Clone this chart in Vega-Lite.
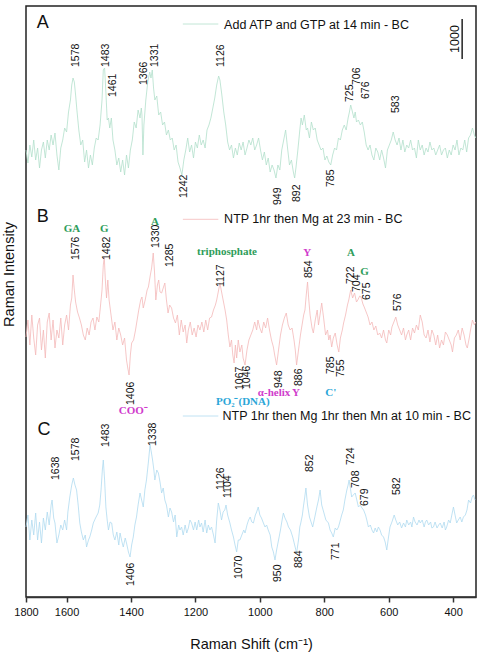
{
"$schema": "https://vega.github.io/schema/vega-lite/v6.json",
"width": 450,
"height": 591,
"autosize": {"type": "none"},
"padding": {"left": 26, "top": 6, "right": 7, "bottom": 59},
"background": "white",
"config": {"view": {"stroke": "#222", "strokeWidth": 1.5}, "font": "Liberation Sans"},
"datasets": {
"A": [
{"shift":1726,"intensity":11175},{"shift":1720,"intensity":10850},{"shift":1714,"intensity":11300},{"shift":1708,"intensity":11000},{"shift":1702,"intensity":11425},{"shift":1696,"intensity":10925},{"shift":1690,"intensity":11225},{"shift":1684,"intensity":10725},{"shift":1678,"intensity":11175},{"shift":1672,"intensity":11375},{"shift":1666,"intensity":10975},{"shift":1660,"intensity":11425},{"shift":1654,"intensity":11175},{"shift":1648,"intensity":11550},{"shift":1642,"intensity":11300},{"shift":1636,"intensity":11600},{"shift":1630,"intensity":11050},{"shift":1624,"intensity":10675},{"shift":1618,"intensity":11225},{"shift":1612,"intensity":11425},{"shift":1606,"intensity":11725},{"shift":1600,"intensity":11625},{"shift":1594,"intensity":12125},{"shift":1588,"intensity":12425},{"shift":1584,"intensity":12800},{"shift":1580,"intensity":12975},{"shift":1576,"intensity":12875},{"shift":1572,"intensity":12550},{"shift":1568,"intensity":12175},{"shift":1562,"intensity":11675},{"shift":1556,"intensity":11300},{"shift":1550,"intensity":11425},{"shift":1544,"intensity":10875},{"shift":1538,"intensity":11175},{"shift":1532,"intensity":10725},{"shift":1526,"intensity":11050},{"shift":1520,"intensity":10800},{"shift":1514,"intensity":11225},{"shift":1508,"intensity":11475},{"shift":1502,"intensity":11425},{"shift":1496,"intensity":11800},{"shift":1490,"intensity":12425},{"shift":1486,"intensity":13175},{"shift":1482,"intensity":13225},{"shift":1478,"intensity":12625},{"shift":1474,"intensity":11925},{"shift":1470,"intensity":11975},{"shift":1466,"intensity":11725},{"shift":1461,"intensity":11975},{"shift":1456,"intensity":11425},{"shift":1450,"intensity":11175},{"shift":1444,"intensity":10800},{"shift":1438,"intensity":10975},{"shift":1432,"intensity":10625},{"shift":1426,"intensity":10925},{"shift":1420,"intensity":10550},{"shift":1414,"intensity":11050},{"shift":1408,"intensity":10725},{"shift":1402,"intensity":11175},{"shift":1396,"intensity":11425},{"shift":1390,"intensity":11875},{"shift":1384,"intensity":11725},{"shift":1378,"intensity":12175},{"shift":1372,"intensity":11975},{"shift":1368,"intensity":12225},{"shift":1366,"intensity":12050},{"shift":1363,"intensity":11050},{"shift":1360,"intensity":11800},{"shift":1354,"intensity":12425},{"shift":1348,"intensity":12875},{"shift":1342,"intensity":13125},{"shift":1338,"intensity":12975},{"shift":1334,"intensity":13175},{"shift":1330,"intensity":12725},{"shift":1326,"intensity":12425},{"shift":1320,"intensity":12525},{"shift":1314,"intensity":12050},{"shift":1308,"intensity":12125},{"shift":1302,"intensity":11800},{"shift":1296,"intensity":11875},{"shift":1290,"intensity":11550},{"shift":1284,"intensity":11675},{"shift":1278,"intensity":11425},{"shift":1272,"intensity":11475},{"shift":1266,"intensity":11175},{"shift":1260,"intensity":11300},{"shift":1254,"intensity":10875},{"shift":1248,"intensity":10725},{"shift":1242,"intensity":10550},{"shift":1236,"intensity":10925},{"shift":1230,"intensity":11175},{"shift":1224,"intensity":11475},{"shift":1218,"intensity":11125},{"shift":1212,"intensity":11300},{"shift":1206,"intensity":10975},{"shift":1200,"intensity":11375},{"shift":1194,"intensity":11225},{"shift":1188,"intensity":11550},{"shift":1182,"intensity":11300},{"shift":1176,"intensity":11425},{"shift":1170,"intensity":11225},{"shift":1164,"intensity":11675},{"shift":1158,"intensity":11800},{"shift":1152,"intensity":11975},{"shift":1146,"intensity":12225},{"shift":1140,"intensity":12475},{"shift":1134,"intensity":12800},{"shift":1128,"intensity":13025},{"shift":1124,"intensity":12925},{"shift":1118,"intensity":12550},{"shift":1112,"intensity":12125},{"shift":1106,"intensity":11800},{"shift":1100,"intensity":11375},{"shift":1094,"intensity":11175},{"shift":1088,"intensity":11300},{"shift":1082,"intensity":10975},{"shift":1076,"intensity":11225},{"shift":1070,"intensity":11050},{"shift":1064,"intensity":11350},{"shift":1058,"intensity":11175},{"shift":1052,"intensity":11375},{"shift":1046,"intensity":11050},{"shift":1040,"intensity":11225},{"shift":1034,"intensity":11425},{"shift":1028,"intensity":11300},{"shift":1022,"intensity":11475},{"shift":1016,"intensity":11175},{"shift":1010,"intensity":11300},{"shift":1004,"intensity":11475},{"shift":998,"intensity":11175},{"shift":992,"intensity":10925},{"shift":986,"intensity":11125},{"shift":980,"intensity":10800},{"shift":974,"intensity":10975},{"shift":968,"intensity":10625},{"shift":962,"intensity":10800},{"shift":956,"intensity":10675},{"shift":950,"intensity":10475},{"shift":944,"intensity":10800},{"shift":938,"intensity":10675},{"shift":932,"intensity":11175},{"shift":926,"intensity":11425},{"shift":920,"intensity":11675},{"shift":914,"intensity":11225},{"shift":908,"intensity":10800},{"shift":902,"intensity":10925},{"shift":896,"intensity":10625},{"shift":892,"intensity":10475},{"shift":888,"intensity":10725},{"shift":882,"intensity":11175},{"shift":876,"intensity":11675},{"shift":872,"intensity":11975},{"shift":868,"intensity":11800},{"shift":862,"intensity":12050},{"shift":856,"intensity":11675},{"shift":852,"intensity":11725},{"shift":846,"intensity":11475},{"shift":840,"intensity":11875},{"shift":834,"intensity":11675},{"shift":828,"intensity":11725},{"shift":822,"intensity":11425},{"shift":816,"intensity":11300},{"shift":810,"intensity":11175},{"shift":804,"intensity":11225},{"shift":798,"intensity":10925},{"shift":792,"intensity":11025},{"shift":786,"intensity":10875},{"shift":780,"intensity":10800},{"shift":774,"intensity":11050},{"shift":768,"intensity":11225},{"shift":762,"intensity":11175},{"shift":756,"intensity":11475},{"shift":750,"intensity":11425},{"shift":744,"intensity":11675},{"shift":738,"intensity":11800},{"shift":732,"intensity":11675},{"shift":726,"intensity":11975},{"shift":722,"intensity":12125},{"shift":718,"intensity":12300},{"shift":714,"intensity":12175},{"shift":708,"intensity":11975},{"shift":704,"intensity":12125},{"shift":700,"intensity":11875},{"shift":694,"intensity":11925},{"shift":688,"intensity":11800},{"shift":682,"intensity":11875},{"shift":676,"intensity":11625},{"shift":670,"intensity":11300},{"shift":664,"intensity":11175},{"shift":658,"intensity":11300},{"shift":652,"intensity":11050},{"shift":646,"intensity":10925},{"shift":640,"intensity":11225},{"shift":634,"intensity":11125},{"shift":628,"intensity":10925},{"shift":622,"intensity":11175},{"shift":616,"intensity":10975},{"shift":610,"intensity":10725},{"shift":604,"intensity":11175},{"shift":598,"intensity":11300},{"shift":592,"intensity":11425},{"shift":586,"intensity":11625},{"shift":580,"intensity":11425},{"shift":574,"intensity":11300},{"shift":568,"intensity":11475},{"shift":562,"intensity":11175},{"shift":556,"intensity":11425},{"shift":550,"intensity":11125},{"shift":544,"intensity":11300},{"shift":538,"intensity":11225},{"shift":532,"intensity":11425},{"shift":526,"intensity":11175},{"shift":520,"intensity":11225},{"shift":514,"intensity":10975},{"shift":508,"intensity":11425},{"shift":502,"intensity":11175},{"shift":496,"intensity":11300},{"shift":490,"intensity":11050},{"shift":484,"intensity":11225},{"shift":478,"intensity":11125},{"shift":472,"intensity":11375},{"shift":466,"intensity":11175},{"shift":460,"intensity":11225},{"shift":454,"intensity":11050},{"shift":448,"intensity":11175},{"shift":442,"intensity":11300},{"shift":436,"intensity":11050},{"shift":430,"intensity":11175},{"shift":424,"intensity":11225},{"shift":418,"intensity":10975},{"shift":412,"intensity":11175},{"shift":406,"intensity":11050},{"shift":400,"intensity":11300},{"shift":394,"intensity":11175},{"shift":388,"intensity":11425},{"shift":382,"intensity":11050},{"shift":376,"intensity":11225},{"shift":370,"intensity":11175},{"shift":364,"intensity":11425},{"shift":358,"intensity":11125},{"shift":352,"intensity":11475},{"shift":346,"intensity":11550},{"shift":340,"intensity":11725},{"shift":334,"intensity":11550},{"shift":330,"intensity":11475}
],
"B": [
{"shift":1726,"intensity":6500},{"shift":1720,"intensity":6925},{"shift":1714,"intensity":6300},{"shift":1708,"intensity":7050},{"shift":1702,"intensity":6475},{"shift":1696,"intensity":6050},{"shift":1690,"intensity":6800},{"shift":1684,"intensity":6975},{"shift":1678,"intensity":6175},{"shift":1672,"intensity":6675},{"shift":1666,"intensity":5975},{"shift":1660,"intensity":6875},{"shift":1654,"intensity":7100},{"shift":1648,"intensity":6425},{"shift":1642,"intensity":6925},{"shift":1636,"intensity":6225},{"shift":1630,"intensity":6675},{"shift":1624,"intensity":6475},{"shift":1618,"intensity":6975},{"shift":1612,"intensity":6300},{"shift":1606,"intensity":6800},{"shift":1600,"intensity":7050},{"shift":1594,"intensity":6675},{"shift":1588,"intensity":7300},{"shift":1584,"intensity":7475},{"shift":1580,"intensity":8050},{"shift":1576,"intensity":7675},{"shift":1572,"intensity":7375},{"shift":1566,"intensity":7125},{"shift":1560,"intensity":6975},{"shift":1554,"intensity":6800},{"shift":1548,"intensity":6550},{"shift":1542,"intensity":6425},{"shift":1536,"intensity":6725},{"shift":1530,"intensity":6550},{"shift":1524,"intensity":6875},{"shift":1518,"intensity":6975},{"shift":1512,"intensity":6675},{"shift":1506,"intensity":7000},{"shift":1500,"intensity":6875},{"shift":1496,"intensity":7175},{"shift":1490,"intensity":7675},{"shift":1486,"intensity":8300},{"shift":1483,"intensity":8500},{"shift":1480,"intensity":7975},{"shift":1476,"intensity":7475},{"shift":1472,"intensity":7925},{"shift":1468,"intensity":7425},{"shift":1462,"intensity":7050},{"shift":1456,"intensity":6675},{"shift":1450,"intensity":6875},{"shift":1444,"intensity":6425},{"shift":1438,"intensity":6725},{"shift":1432,"intensity":6550},{"shift":1426,"intensity":6300},{"shift":1420,"intensity":6475},{"shift":1414,"intensity":5925},{"shift":1410,"intensity":5725},{"shift":1406,"intensity":5550},{"shift":1402,"intensity":6050},{"shift":1398,"intensity":6350},{"shift":1392,"intensity":6425},{"shift":1386,"intensity":6675},{"shift":1380,"intensity":6975},{"shift":1376,"intensity":7175},{"shift":1370,"intensity":7425},{"shift":1366,"intensity":7500},{"shift":1362,"intensity":7225},{"shift":1356,"intensity":7425},{"shift":1350,"intensity":7675},{"shift":1346,"intensity":7750},{"shift":1340,"intensity":8050},{"shift":1336,"intensity":8225},{"shift":1331,"intensity":8600},{"shift":1327,"intensity":8125},{"shift":1323,"intensity":7425},{"shift":1318,"intensity":7800},{"shift":1314,"intensity":7925},{"shift":1310,"intensity":7625},{"shift":1305,"intensity":7600},{"shift":1300,"intensity":7725},{"shift":1295,"intensity":7850},{"shift":1290,"intensity":7425},{"shift":1285,"intensity":7100},{"shift":1280,"intensity":7300},{"shift":1274,"intensity":7225},{"shift":1268,"intensity":6975},{"shift":1262,"intensity":6850},{"shift":1256,"intensity":7050},{"shift":1250,"intensity":6550},{"shift":1244,"intensity":6925},{"shift":1238,"intensity":6625},{"shift":1232,"intensity":6800},{"shift":1227,"intensity":6350},{"shift":1222,"intensity":6675},{"shift":1216,"intensity":6875},{"shift":1210,"intensity":6550},{"shift":1204,"intensity":6725},{"shift":1198,"intensity":6500},{"shift":1192,"intensity":6800},{"shift":1186,"intensity":6675},{"shift":1180,"intensity":6875},{"shift":1174,"intensity":6625},{"shift":1168,"intensity":6925},{"shift":1162,"intensity":6675},{"shift":1156,"intensity":6975},{"shift":1150,"intensity":7000},{"shift":1144,"intensity":7175},{"shift":1138,"intensity":7300},{"shift":1134,"intensity":7425},{"shift":1128,"intensity":7675},{"shift":1124,"intensity":7850},{"shift":1120,"intensity":7675},{"shift":1114,"intensity":7425},{"shift":1108,"intensity":7175},{"shift":1103,"intensity":6925},{"shift":1098,"intensity":6550},{"shift":1093,"intensity":6250},{"shift":1088,"intensity":6425},{"shift":1084,"intensity":6050},{"shift":1080,"intensity":5850},{"shift":1076,"intensity":6300},{"shift":1072,"intensity":5975},{"shift":1067,"intensity":6425},{"shift":1062,"intensity":6125},{"shift":1056,"intensity":6300},{"shift":1052,"intensity":5975},{"shift":1046,"intensity":5800},{"shift":1040,"intensity":6175},{"shift":1034,"intensity":6425},{"shift":1028,"intensity":6550},{"shift":1022,"intensity":6675},{"shift":1016,"intensity":6875},{"shift":1010,"intensity":6675},{"shift":1006,"intensity":6925},{"shift":1000,"intensity":6725},{"shift":994,"intensity":6600},{"shift":988,"intensity":6875},{"shift":982,"intensity":6725},{"shift":976,"intensity":6975},{"shift":970,"intensity":6675},{"shift":964,"intensity":6425},{"shift":958,"intensity":6250},{"shift":954,"intensity":6050},{"shift":948,"intensity":5800},{"shift":942,"intensity":6175},{"shift":936,"intensity":6550},{"shift":930,"intensity":6800},{"shift":924,"intensity":6975},{"shift":918,"intensity":7100},{"shift":912,"intensity":6800},{"shift":906,"intensity":6675},{"shift":900,"intensity":6725},{"shift":894,"intensity":6425},{"shift":890,"intensity":6175},{"shift":886,"intensity":5800},{"shift":880,"intensity":6175},{"shift":874,"intensity":6550},{"shift":870,"intensity":6750},{"shift":864,"intensity":7050},{"shift":860,"intensity":7175},{"shift":856,"intensity":7550},{"shift":852,"intensity":7875},{"shift":848,"intensity":7425},{"shift":844,"intensity":7050},{"shift":838,"intensity":6725},{"shift":834,"intensity":6600},{"shift":828,"intensity":6925},{"shift":822,"intensity":7175},{"shift":818,"intensity":6800},{"shift":812,"intensity":7125},{"shift":808,"intensity":7350},{"shift":802,"intensity":6975},{"shift":796,"intensity":6550},{"shift":790,"intensity":6675},{"shift":786,"intensity":6425},{"shift":782,"intensity":6550},{"shift":777,"intensity":6250},{"shift":772,"intensity":6475},{"shift":766,"intensity":6600},{"shift":760,"intensity":6300},{"shift":755,"intensity":6125},{"shift":750,"intensity":6475},{"shift":744,"intensity":6675},{"shift":740,"intensity":6850},{"shift":734,"intensity":7050},{"shift":728,"intensity":7300},{"shift":724,"intensity":7425},{"shift":718,"intensity":7675},{"shift":712,"intensity":7475},{"shift":706,"intensity":7600},{"shift":700,"intensity":7375},{"shift":696,"intensity":7425},{"shift":690,"intensity":7525},{"shift":686,"intensity":7500},{"shift":680,"intensity":7325},{"shift":676,"intensity":7250},{"shift":670,"intensity":7125},{"shift":664,"intensity":7000},{"shift":658,"intensity":6800},{"shift":652,"intensity":6875},{"shift":646,"intensity":6675},{"shift":640,"intensity":6775},{"shift":634,"intensity":6550},{"shift":628,"intensity":6600},{"shift":622,"intensity":6475},{"shift":616,"intensity":6675},{"shift":610,"intensity":6425},{"shift":606,"intensity":6350},{"shift":600,"intensity":6675},{"shift":594,"intensity":6550},{"shift":590,"intensity":6750},{"shift":584,"intensity":6875},{"shift":578,"intensity":7000},{"shift":572,"intensity":6800},{"shift":566,"intensity":6675},{"shift":560,"intensity":6550},{"shift":554,"intensity":6725},{"shift":548,"intensity":6425},{"shift":544,"intensity":6550},{"shift":538,"intensity":6675},{"shift":532,"intensity":6425},{"shift":526,"intensity":6725},{"shift":520,"intensity":6600},{"shift":514,"intensity":6800},{"shift":508,"intensity":6675},{"shift":502,"intensity":7050},{"shift":496,"intensity":6875},{"shift":490,"intensity":6550},{"shift":484,"intensity":6475},{"shift":478,"intensity":6675},{"shift":472,"intensity":6375},{"shift":466,"intensity":6675},{"shift":460,"intensity":6550},{"shift":454,"intensity":6300},{"shift":448,"intensity":6550},{"shift":442,"intensity":6225},{"shift":436,"intensity":6425},{"shift":430,"intensity":6300},{"shift":424,"intensity":6625},{"shift":418,"intensity":6550},{"shift":412,"intensity":6425},{"shift":406,"intensity":6300},{"shift":402,"intensity":6125},{"shift":396,"intensity":6475},{"shift":390,"intensity":6550},{"shift":384,"intensity":6675},{"shift":378,"intensity":6425},{"shift":372,"intensity":6725},{"shift":366,"intensity":6550},{"shift":360,"intensity":6300},{"shift":356,"intensity":6225},{"shift":350,"intensity":6475},{"shift":346,"intensity":6675},{"shift":340,"intensity":6925},{"shift":334,"intensity":6800},{"shift":330,"intensity":6875}
],
"C": [
{"shift":1726,"intensity":1750},{"shift":1720,"intensity":2050},{"shift":1714,"intensity":1425},{"shift":1708,"intensity":1925},{"shift":1702,"intensity":1550},{"shift":1696,"intensity":2100},{"shift":1690,"intensity":1425},{"shift":1684,"intensity":1875},{"shift":1678,"intensity":1350},{"shift":1672,"intensity":1975},{"shift":1666,"intensity":1675},{"shift":1660,"intensity":2125},{"shift":1654,"intensity":1800},{"shift":1648,"intensity":2300},{"shift":1645,"intensity":2425},{"shift":1640,"intensity":1975},{"shift":1636,"intensity":1850},{"shift":1630,"intensity":1350},{"shift":1624,"intensity":1550},{"shift":1618,"intensity":1800},{"shift":1612,"intensity":1675},{"shift":1606,"intensity":1925},{"shift":1600,"intensity":1675},{"shift":1596,"intensity":2125},{"shift":1590,"intensity":2500},{"shift":1584,"intensity":2800},{"shift":1579,"intensity":2975},{"shift":1574,"intensity":2800},{"shift":1569,"intensity":2675},{"shift":1564,"intensity":2300},{"shift":1559,"intensity":1850},{"shift":1554,"intensity":1625},{"shift":1548,"intensity":1425},{"shift":1542,"intensity":1550},{"shift":1538,"intensity":1250},{"shift":1532,"intensity":1425},{"shift":1528,"intensity":1500},{"shift":1522,"intensity":1675},{"shift":1517,"intensity":1850},{"shift":1510,"intensity":1975},{"shift":1502,"intensity":2100},{"shift":1497,"intensity":2300},{"shift":1493,"intensity":2675},{"shift":1489,"intensity":3175},{"shift":1486,"intensity":3425},{"shift":1482,"intensity":2925},{"shift":1478,"intensity":2250},{"shift":1474,"intensity":1925},{"shift":1470,"intensity":1675},{"shift":1465,"intensity":1875},{"shift":1460,"intensity":1850},{"shift":1455,"intensity":1550},{"shift":1450,"intensity":1425},{"shift":1444,"intensity":1625},{"shift":1438,"intensity":1300},{"shift":1434,"intensity":1600},{"shift":1428,"intensity":1375},{"shift":1424,"intensity":1250},{"shift":1418,"intensity":1475},{"shift":1414,"intensity":1350},{"shift":1408,"intensity":1125},{"shift":1403,"intensity":1000},{"shift":1398,"intensity":1300},{"shift":1393,"intensity":1500},{"shift":1388,"intensity":1800},{"shift":1383,"intensity":2000},{"shift":1378,"intensity":2300},{"shift":1372,"intensity":2600},{"shift":1367,"intensity":2425},{"shift":1362,"intensity":2250},{"shift":1357,"intensity":2675},{"shift":1352,"intensity":2925},{"shift":1346,"intensity":3375},{"shift":1341,"intensity":3800},{"shift":1337,"intensity":3625},{"shift":1333,"intensity":3425},{"shift":1329,"intensity":3175},{"shift":1326,"intensity":2925},{"shift":1320,"intensity":3175},{"shift":1315,"intensity":3100},{"shift":1310,"intensity":2875},{"shift":1305,"intensity":2600},{"shift":1300,"intensity":2725},{"shift":1295,"intensity":2425},{"shift":1290,"intensity":2300},{"shift":1284,"intensity":2000},{"shift":1279,"intensity":2225},{"shift":1274,"intensity":2125},{"shift":1268,"intensity":1875},{"shift":1263,"intensity":2050},{"shift":1258,"intensity":1500},{"shift":1252,"intensity":1800},{"shift":1248,"intensity":1675},{"shift":1243,"intensity":1750},{"shift":1238,"intensity":1550},{"shift":1232,"intensity":1800},{"shift":1227,"intensity":1600},{"shift":1222,"intensity":1725},{"shift":1217,"intensity":1925},{"shift":1212,"intensity":1850},{"shift":1206,"intensity":1675},{"shift":1201,"intensity":1875},{"shift":1196,"intensity":1675},{"shift":1190,"intensity":1925},{"shift":1186,"intensity":1750},{"shift":1181,"intensity":1850},{"shift":1176,"intensity":1625},{"shift":1170,"intensity":1925},{"shift":1165,"intensity":1600},{"shift":1160,"intensity":1800},{"shift":1155,"intensity":1675},{"shift":1150,"intensity":1750},{"shift":1144,"intensity":1550},{"shift":1139,"intensity":1350},{"shift":1134,"intensity":1925},{"shift":1129,"intensity":2350},{"shift":1124,"intensity":2175},{"shift":1119,"intensity":1925},{"shift":1114,"intensity":2125},{"shift":1109,"intensity":2175},{"shift":1105,"intensity":2300},{"shift":1100,"intensity":2050},{"shift":1093,"intensity":1850},{"shift":1088,"intensity":1675},{"shift":1082,"intensity":1500},{"shift":1077,"intensity":1300},{"shift":1072,"intensity":1125},{"shift":1067,"intensity":1425},{"shift":1062,"intensity":1425},{"shift":1056,"intensity":1550},{"shift":1050,"intensity":1675},{"shift":1046,"intensity":1600},{"shift":1040,"intensity":1800},{"shift":1035,"intensity":1925},{"shift":1030,"intensity":2000},{"shift":1025,"intensity":1875},{"shift":1020,"intensity":1850},{"shift":1014,"intensity":2050},{"shift":1010,"intensity":2125},{"shift":1005,"intensity":2250},{"shift":1000,"intensity":2050},{"shift":995,"intensity":1975},{"shift":989,"intensity":1850},{"shift":984,"intensity":1750},{"shift":979,"intensity":1800},{"shift":974,"intensity":1675},{"shift":968,"intensity":1550},{"shift":963,"intensity":1250},{"shift":958,"intensity":1125},{"shift":953,"intensity":925},{"shift":948,"intensity":1175},{"shift":942,"intensity":1425},{"shift":936,"intensity":1675},{"shift":932,"intensity":1875},{"shift":927,"intensity":2100},{"shift":922,"intensity":1975},{"shift":916,"intensity":1875},{"shift":911,"intensity":1750},{"shift":905,"intensity":1675},{"shift":898,"intensity":1500},{"shift":892,"intensity":1300},{"shift":886,"intensity":1100},{"shift":880,"intensity":1425},{"shift":876,"intensity":1750},{"shift":873,"intensity":1850},{"shift":868,"intensity":2050},{"shift":865,"intensity":2250},{"shift":861,"intensity":2475},{"shift":857,"intensity":2725},{"shift":852,"intensity":2300},{"shift":846,"intensity":2000},{"shift":841,"intensity":1875},{"shift":836,"intensity":1750},{"shift":830,"intensity":1975},{"shift":823,"intensity":2250},{"shift":818,"intensity":2425},{"shift":813,"intensity":2675},{"shift":808,"intensity":2300},{"shift":801,"intensity":2100},{"shift":795,"intensity":1925},{"shift":787,"intensity":1850},{"shift":782,"intensity":1675},{"shift":777,"intensity":1600},{"shift":772,"intensity":1500},{"shift":766,"intensity":1725},{"shift":761,"intensity":1675},{"shift":756,"intensity":1750},{"shift":750,"intensity":1925},{"shift":746,"intensity":2050},{"shift":741,"intensity":2175},{"shift":736,"intensity":2425},{"shift":730,"intensity":2675},{"shift":726,"intensity":2800},{"shift":723,"intensity":2925},{"shift":719,"intensity":2725},{"shift":715,"intensity":2500},{"shift":710,"intensity":2550},{"shift":704,"intensity":2600},{"shift":699,"intensity":2425},{"shift":694,"intensity":2250},{"shift":688,"intensity":2300},{"shift":683,"intensity":2225},{"shift":678,"intensity":2175},{"shift":672,"intensity":2050},{"shift":668,"intensity":1925},{"shift":663,"intensity":1750},{"shift":657,"intensity":1800},{"shift":652,"intensity":1675},{"shift":647,"intensity":1600},{"shift":642,"intensity":1725},{"shift":637,"intensity":1625},{"shift":632,"intensity":1750},{"shift":627,"intensity":1675},{"shift":622,"intensity":1550},{"shift":616,"intensity":1500},{"shift":611,"intensity":1375},{"shift":606,"intensity":1175},{"shift":601,"intensity":1475},{"shift":596,"intensity":1750},{"shift":590,"intensity":1875},{"shift":583,"intensity":2050},{"shift":578,"intensity":1925},{"shift":572,"intensity":1800},{"shift":566,"intensity":1875},{"shift":560,"intensity":1725},{"shift":554,"intensity":1850},{"shift":548,"intensity":1750},{"shift":544,"intensity":1925},{"shift":538,"intensity":1800},{"shift":532,"intensity":1875},{"shift":528,"intensity":1750},{"shift":523,"intensity":2000},{"shift":518,"intensity":1875},{"shift":512,"intensity":1800},{"shift":506,"intensity":1925},{"shift":502,"intensity":1850},{"shift":496,"intensity":1925},{"shift":490,"intensity":1750},{"shift":486,"intensity":1875},{"shift":482,"intensity":1925},{"shift":476,"intensity":1800},{"shift":470,"intensity":1875},{"shift":466,"intensity":1725},{"shift":461,"intensity":1750},{"shift":456,"intensity":1875},{"shift":450,"intensity":1725},{"shift":445,"intensity":1800},{"shift":440,"intensity":1850},{"shift":434,"intensity":1725},{"shift":428,"intensity":1875},{"shift":424,"intensity":1675},{"shift":420,"intensity":1750},{"shift":414,"intensity":1925},{"shift":409,"intensity":1850},{"shift":404,"intensity":2050},{"shift":399,"intensity":2250},{"shift":394,"intensity":2050},{"shift":389,"intensity":1850},{"shift":384,"intensity":1925},{"shift":378,"intensity":2000},{"shift":373,"intensity":1875},{"shift":368,"intensity":2000},{"shift":362,"intensity":2050},{"shift":357,"intensity":2175},{"shift":352,"intensity":2425},{"shift":346,"intensity":2350},{"shift":341,"intensity":2500},{"shift":337,"intensity":2550},{"shift":332,"intensity":2425}
],
"peaks": [
{"label":"1578","shift":1578,"intensity":13250},{"label":"1483","shift":1483,"intensity":13250},{"label":"1461","shift":1461,"intensity":12500},{"label":"1366","shift":1366,"intensity":12800},{"label":"1331","shift":1331,"intensity":13250},{"label":"1126","shift":1126,"intensity":13250},{"label":"725","shift":725,"intensity":12375},{"label":"706","shift":706,"intensity":12800},{"label":"676","shift":676,"intensity":12450},{"label":"583","shift":583,"intensity":12100},{"label":"1242","shift":1242,"intensity":9975},{"label":"949","shift":949,"intensity":9800},{"label":"892","shift":892,"intensity":9875},{"label":"785","shift":785,"intensity":10250},
{"label":"1576","shift":1576,"intensity":8425},{"label":"1482","shift":1482,"intensity":8425},{"label":"1330","shift":1330,"intensity":8725},{"label":"1285","shift":1285,"intensity":8250},{"label":"1127","shift":1127,"intensity":7750},{"label":"854","shift":854,"intensity":7975},{"label":"722","shift":722,"intensity":7825},{"label":"704","shift":704,"intensity":7625},{"label":"675","shift":675,"intensity":7425},{"label":"576","shift":576,"intensity":7150},{"label":"1406","shift":1406,"intensity":4800},{"label":"1067","shift":1067,"intensity":5175},{"label":"1046","shift":1046,"intensity":5200},{"label":"948","shift":948,"intensity":5225},{"label":"886","shift":886,"intensity":5275},{"label":"785","shift":785,"intensity":5575},{"label":"755","shift":755,"intensity":5500},
{"label":"1638","shift":1638,"intensity":2925},{"label":"1578","shift":1578,"intensity":3400},{"label":"1483","shift":1483,"intensity":3750},{"label":"1338","shift":1338,"intensity":3775},{"label":"1126","shift":1126,"intensity":2675},{"label":"1104","shift":1104,"intensity":2475},{"label":"852","shift":852,"intensity":3125},{"label":"724","shift":724,"intensity":3300},{"label":"708","shift":708,"intensity":2725},{"label":"679","shift":679,"intensity":2275},{"label":"582","shift":582,"intensity":2550},{"label":"1406","shift":1406,"intensity":275},{"label":"1070","shift":1070,"intensity":450},{"label":"950","shift":950,"intensity":375},{"label":"884","shift":884,"intensity":725},{"label":"771","shift":771,"intensity":925}
],
"tags": [
{"text":"GA","group":"nucleotide","shift":1583,"intensity":9212},{"text":"G","group":"nucleotide","shift":1483,"intensity":9212},{"text":"A","group":"nucleotide","shift":1326,"intensity":9375},{"text":"triphosphate","group":"nucleotide","shift":1102,"intensity":8625},{"text":"Y","group":"protein","shift":853,"intensity":8600},{"text":"A","group":"nucleotide","shift":717,"intensity":8600},{"text":"G","group":"nucleotide","shift":675,"intensity":8137},{"text":"α-helix","group":"protein","shift":956,"intensity":5112},{"text":"Y","group":"protein","shift":888,"intensity":5112},{"text":"C'","group":"backbone","shift":780,"intensity":5112},{"text":"PO₂⁻(DNA)","group":"backbone","shift":1053,"intensity":4875},{"text":"COO⁻","group":"protein","shift":1393,"intensity":4650}
],
"legendLines": [
{"trace":"A","shift":1239,"shiftEnd":1129,"intensity":14325},{"trace":"B","shift":1239,"shiftEnd":1129,"intensity":9442},{"trace":"C","shift":1239,"shiftEnd":1129,"intensity":4525}
],
"legendText": [
{"text":"Add ATP and GTP at 14 min - BC","shift":1111,"intensity":14200},{"text":"NTP 1hr then Mg at 23 min - BC","shift":1111,"intensity":9350},{"text":"NTP 1hr then Mg 1hr then Mn at 10 min - BC","shift":1116,"intensity":4425}
],
"panels": [
{"text":"A","shift":1674,"intensity":14225},{"text":"B","shift":1674,"intensity":9375},{"text":"C","shift":1670,"intensity":4050}
],
"scaleBar": [{"shift":372,"intensity":13450,"intensityEnd":14450}],
"scaleText": [{"text":"1000","shift":395,"intensity":13950}]
},
"encoding": {
"x": {"field": "shift", "type": "quantitative",
 "scale": {"domain": [329, 1726], "reverse": true, "nice": false, "zero": false},
 "axis": {"title": "Raman Shift (cm⁻¹)", "values": [1726, 1600, 1400, 1200, 1000, 800, 600, 400], "format": "d",
  "labelExpr": "datum.value > 1700 ? '1800' : datum.label",
  "grid": false, "tickSize": 5, "tickWidth": 1.5, "tickColor": "#333", "domainColor": "#333", "domainWidth": 1.5,
  "labelFontSize": 11, "labelFont": "Liberation Sans", "labelColor": "#111", "labelPadding": 4,
  "labelFlush": false, "labelOverlap": false, "labelBound": false,
  "titleFontSize": 14.5, "titleFontWeight": "normal", "titleFont": "Liberation Sans", "titleColor": "#111", "titlePadding": 20}},
"y": {"field": "intensity", "type": "quantitative",
 "scale": {"domain": [0, 14775], "nice": false, "zero": false},
 "axis": {"title": "Raman Intensity", "labels": false, "ticks": false, "domain": false, "grid": false,
  "titleFontSize": 14.5, "titleFontWeight": "normal", "titleFont": "Liberation Sans", "titleColor": "#111",
  "titlePadding": 10, "titleY": 268}}
},
"layer": [
{"data": {"name": "A"}, "mark": {"type": "line", "color": "#b3dfcc", "strokeWidth": 0.8}},
{"data": {"name": "B"}, "mark": {"type": "line", "color": "#f4b9b9", "strokeWidth": 0.8}},
{"data": {"name": "C"}, "mark": {"type": "line", "color": "#b0daf0", "strokeWidth": 0.8}},
{"data": {"name": "legendLines"}, "mark": {"type": "rule", "strokeWidth": 0.8},
 "encoding": {"x2": {"field": "shiftEnd"},
  "color": {"field": "trace", "type": "nominal", "scale": {"domain": ["A", "B", "C"], "range": ["#b3dfcc", "#f4b9b9", "#b0daf0"]}, "legend": null}}},
{"data": {"name": "legendText"}, "mark": {"type": "text", "align": "left", "baseline": "alphabetic", "fontSize": 12.5, "font": "Liberation Sans", "color": "#111"},
 "encoding": {"text": {"field": "text"}}},
{"data": {"name": "panels"}, "mark": {"type": "text", "align": "center", "baseline": "alphabetic", "fontSize": 18, "font": "Liberation Sans", "color": "#111"},
 "encoding": {"text": {"field": "text"}}},
{"data": {"name": "peaks"}, "mark": {"type": "text", "angle": 270, "align": "left", "baseline": "middle", "fontSize": 10.5, "font": "Liberation Sans", "color": "#111", "dy": 2},
 "encoding": {"text": {"field": "label"}}},
{"data": {"name": "tags"}, "mark": {"type": "text", "align": "center", "baseline": "middle", "fontSize": 11, "font": "Liberation Serif", "fontWeight": "bold"},
 "encoding": {"text": {"field": "text"},
  "color": {"field": "group", "type": "nominal", "scale": {"domain": ["nucleotide", "protein", "backbone"], "range": ["#2e9d5a", "#d03ccc", "#2aa6d8"]}, "legend": null}}},
{"data": {"name": "scaleBar"}, "mark": {"type": "rule", "color": "#222", "strokeWidth": 1.5},
 "encoding": {"y2": {"field": "intensityEnd"}}},
{"data": {"name": "scaleText"}, "mark": {"type": "text", "angle": 270, "align": "center", "baseline": "middle", "fontSize": 12.5, "font": "Liberation Sans", "color": "#111"},
 "encoding": {"text": {"field": "text"}}}
],
"resolve": {"scale": {"color": "independent"}}
}
